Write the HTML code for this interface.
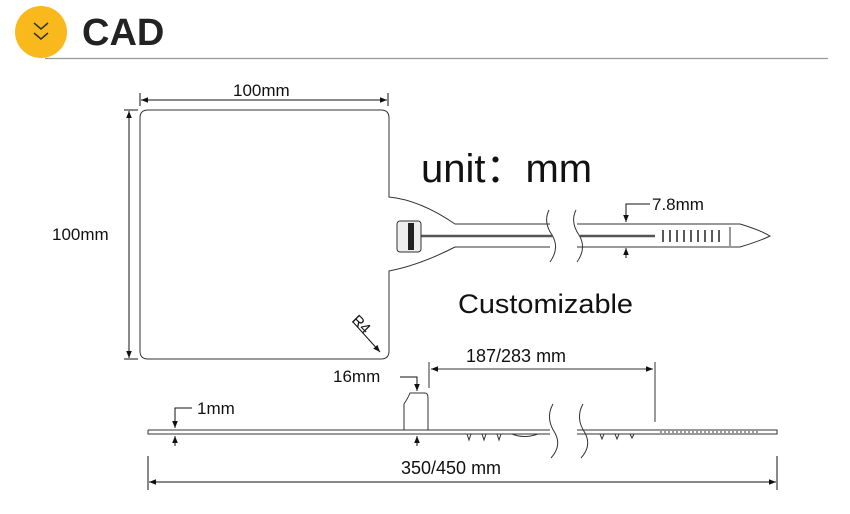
<!DOCTYPE html>
<html><head><meta charset="utf-8"><style>
body{margin:0;background:#fff;width:850px;height:514px;overflow:hidden}
svg{display:block}
text{font-family:"Liberation Sans",sans-serif;fill:#111}
</style></head><body>
<svg width="850" height="514" viewBox="0 0 850 514" xmlns="http://www.w3.org/2000/svg">
<defs>
<marker id="a" viewBox="0 0 10 10" refX="10" refY="5" markerWidth="7" markerHeight="7" orient="auto-start-reverse"><path d="M0,1 L10,5 L0,9 z" fill="#111"/></marker>
</defs>
<!-- header -->
<circle cx="41" cy="32" r="26" fill="#f9b91c"/>
<polyline points="34,23 41,29 48,23" fill="none" stroke="#333" stroke-width="1.5"/>
<polyline points="34,33 41,39 48,33" fill="none" stroke="#333" stroke-width="1.5"/>
<text x="82" y="45" font-size="38" font-weight="bold" style="fill:#222">CAD</text>
<line x1="45" y1="58.5" x2="828" y2="58.5" stroke="#999" stroke-width="1.2"/>

<!-- tag outline -->
<g fill="none" stroke="#333" stroke-width="1">
<path d="M148,110 H381 Q389,110 389,118 V197 Q420,200 455,224 H550 M577,224 H740 Q760,230 770,236 Q760,241 740,247 H577 M550,247 H455 Q420,265 389,271 V351 Q389,359 381,359 H148 Q140,359 140,351 V118 Q140,110 148,110"/>
<path d="M549,210 Q543,222 552,235 Q560,248 550,262"/>
<path d="M576,210 Q570,222 579,235 Q587,248 577,262"/>
<line x1="420" y1="236" x2="553" y2="236" stroke-width="2.5" stroke="#555"/>
<line x1="580" y1="236" x2="655" y2="236" stroke-width="2.5" stroke="#555"/>
<line x1="730" y1="227" x2="730" y2="246"/>
</g>
<rect x="397" y="221" width="24" height="31" rx="3" fill="#eee" stroke="#333"/>
<rect x="408" y="223" width="6" height="27" fill="#222"/>
<g stroke="#222" stroke-width="1.5">
<line x1="663" y1="230" x2="663" y2="242"/><line x1="670" y1="230" x2="670" y2="242"/><line x1="677" y1="230" x2="677" y2="242"/><line x1="684" y1="230" x2="684" y2="242"/><line x1="691" y1="230" x2="691" y2="242"/><line x1="698" y1="230" x2="698" y2="242"/><line x1="705" y1="230" x2="705" y2="242"/><line x1="712" y1="230" x2="712" y2="242"/><line x1="719" y1="230" x2="719" y2="242"/>
</g>

<!-- dims top -->
<g stroke="#111" stroke-width="1" fill="none">
<line x1="140" y1="93" x2="140" y2="106"/><line x1="388" y1="93" x2="388" y2="106"/>
<line x1="141" y1="100" x2="387" y2="100" marker-start="url(#a)" marker-end="url(#a)"/>
<line x1="124" y1="110" x2="138" y2="110"/><line x1="124" y1="359" x2="138" y2="359"/>
<line x1="129" y1="111" x2="129" y2="358" marker-start="url(#a)" marker-end="url(#a)"/>
<line x1="353" y1="322" x2="380" y2="352" marker-end="url(#a)"/>
<polyline points="650,204 626,204 626,222" marker-end="url(#a)"/>
<line x1="626" y1="258" x2="626" y2="248" marker-end="url(#a)"/>
</g>
<text x="233" y="96" font-size="17">100mm</text>
<text x="52" y="240" font-size="17">100mm</text>
<text x="0" y="0" font-size="15" transform="translate(351,321) rotate(45)">R4</text>
<text x="421" y="182" font-size="40">unit：mm</text>
<text x="652" y="210" font-size="17">7.8mm</text>
<text x="458" y="313" font-size="27" textLength="175" lengthAdjust="spacingAndGlyphs">Customizable</text>

<!-- side view -->
<g stroke="#333" stroke-width="1" fill="none">
<path d="M148,430 H550 M577,430 H777 V434 H577 M550,434 H148 V430"/>
<path d="M404,430 V404 Q408,398 410,393 H425 Q428,393 428,398 V430"/>
<path d="M553,404 Q545,418 555,433 Q562,446 551,458"/>
<path d="M583,404 Q575,418 585,433 Q592,446 581,458"/>
<path d="M467,434 l2,6 l2,-6 M482,434 l2,6 l2,-6 M497,434 l2,6 l2,-6 M512,434 q12,5 26,0 M600,434 l2,5 l2,-5 M615,434 l2,5 l2,-5 M630,434 l2,4 l2,-4"/>
<line x1="660" y1="432" x2="760" y2="432" stroke-dasharray="2,2"/>
<line x1="655" y1="362" x2="655" y2="422"/>
<line x1="429" y1="362" x2="429" y2="388"/>
<line x1="431" y1="369" x2="653" y2="369" marker-start="url(#a)" marker-end="url(#a)"/>
<polyline points="400,377 417,377 417,391" stroke="#111" marker-end="url(#a)"/>
<line x1="417" y1="446" x2="417" y2="436" stroke="#111" marker-end="url(#a)"/>
<polyline points="192,408 175,408 175,428" stroke="#111" marker-end="url(#a)"/>
<line x1="175" y1="446" x2="175" y2="436" stroke="#111" marker-end="url(#a)"/>
<line x1="148" y1="456" x2="148" y2="490" stroke="#111"/>
<line x1="777" y1="456" x2="777" y2="490" stroke="#111"/>
<line x1="149" y1="482" x2="776" y2="482" stroke="#111" marker-start="url(#a)" marker-end="url(#a)"/>
</g>
<text x="466" y="362" font-size="18">187/283 mm</text>
<text x="333" y="382" font-size="17">16mm</text>
<text x="197" y="414" font-size="17">1mm</text>
<text x="401" y="474" font-size="18">350/450 mm</text>
</svg>
</body></html>
